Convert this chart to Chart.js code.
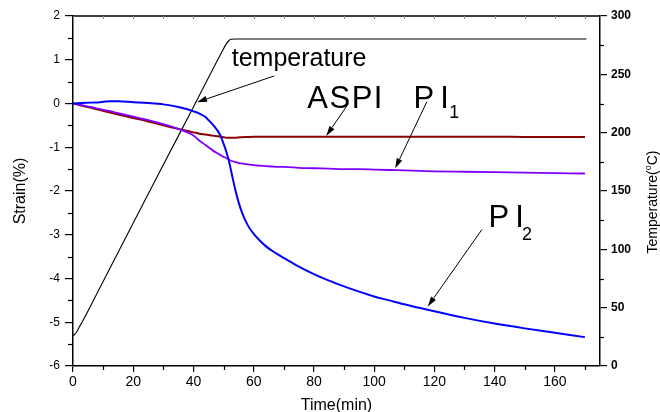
<!DOCTYPE html>
<html>
<head>
<meta charset="utf-8">
<script src="https://cdn.jsdelivr.net/npm/chart.js@4.4.1/dist/chart.umd.min.js"></script>
<style>
  html, body { margin: 0; padding: 0; background: #fff; }
  canvas { display: block; }
</style>
</head>
<body>
<canvas id="c" width="660" height="412"></canvas>
<script>
// Strain series share one time base (min)
const strainTime = [0, 3, 6, 9, 12, 15, 20, 25, 30, 35, 38, 40, 42, 44, 45, 46, 47, 48, 49, 50, 51, 52, 53, 54, 55, 56, 58, 60, 62, 64, 66, 68, 70, 75, 80, 85, 90, 95, 100, 105, 110, 115, 120, 130, 140, 150, 160, 170];

const strainPI2 = [0, 0.01, 0.02, 0.03, 0.05, 0.05, 0.03, 0.01, -0.02, -0.08, -0.13, -0.18, -0.23, -0.31, -0.38, -0.45, -0.53, -0.62, -0.74, -0.92, -1.12, -1.38, -1.70, -2.0, -2.26, -2.47, -2.78, -2.98, -3.13, -3.26, -3.36, -3.45, -3.53, -3.73, -3.9, -4.05, -4.18, -4.3, -4.41, -4.5, -4.59, -4.67, -4.75, -4.9, -5.03, -5.14, -5.24, -5.34];

const strainASPI = [0, -0.05, -0.1, -0.15, -0.2, -0.25, -0.33, -0.41, -0.5, -0.58, -0.63, -0.66, -0.69, -0.71, -0.72, -0.73, -0.74, -0.75, -0.76, -0.77, -0.78, -0.78, -0.78, -0.78, -0.775, -0.77, -0.765, -0.76, -0.76, -0.76, -0.76, -0.76, -0.76, -0.76, -0.76, -0.76, -0.76, -0.76, -0.76, -0.76, -0.76, -0.76, -0.76, -0.76, -0.76, -0.765, -0.765, -0.765];

const strainPI1 = [0, -0.04, -0.08, -0.13, -0.17, -0.22, -0.3, -0.38, -0.47, -0.58, -0.66, -0.73, -0.85, -0.95, -1.0, -1.05, -1.1, -1.14, -1.18, -1.22, -1.25, -1.29, -1.32, -1.34, -1.36, -1.37, -1.39, -1.41, -1.42, -1.43, -1.44, -1.45, -1.45, -1.47, -1.48, -1.49, -1.5, -1.5, -1.51, -1.52, -1.53, -1.54, -1.55, -1.56, -1.57, -1.58, -1.59, -1.6];

// Furnace temperature program (°C)
const tempTime   = [0, 0.5, 1, 1.5, 2, 3, 10, 20, 30, 40, 50, 51, 51.8, 52.5, 54, 170.5];
const tempValues = [26, 27, 28.5, 30.5, 33, 37.5, 72.5, 122.5, 172.5, 222, 272, 276.5, 279, 280, 280.3, 280.3];

// Axis tick values
const timeTicks = [0, 20, 40, 60, 80, 100, 120, 140, 160];
const timeMinorTicks = [10, 30, 50, 70, 90, 110, 130, 150, 170];
const strainTicks = [-6, -5, -4, -3, -2, -1, 0, 1, 2];
const strainMinorTicks = [-5.5, -4.5, -3.5, -2.5, -1.5, -0.5, 0.5, 1.5];
const tempTicks = [0, 50, 100, 150, 200, 250, 300];
const tempMinorTicks = [25, 75, 125, 175, 225, 275];

const pts = (xs, ys) => xs.map((x, i) => ({ x, y: ys[i] }));

// Curve labels and pointer arrows, placed in data units (time, strain)
const curveLabels = [
  { text: 'temperature', t: 52.7, s: 0.86, size: 25, spacing: 0 },
  { text: 'ASPI', t: 77.8, s: -0.11, size: 31, spacing: 1.5 },
  { text: 'PI', t: 113.1, s: -0.11, size: 31, spacing: 6, sub: '1', subT: 124.9, subS: -0.34 },
  { text: 'PI', t: 138.0, s: -2.82, size: 31, spacing: 6, sub: '2', subT: 149.1, subS: -3.11 }
];
const pointerArrows = [
  { from: [66.8, 0.63], to: [41.2, 0.03] },
  { from: [91.5, 0.0], to: [84.1, -0.74] },
  { from: [117.5, 0.04], to: [107.0, -1.48] },
  { from: [135.8, -2.88], to: [117.8, -4.64] }
];

const FONT = '"Liberation Sans", Arial, sans-serif';

const decor = {
  id: 'decor',
  afterDraw(chart) {
    const { ctx, chartArea: a } = chart;
    const x = chart.scales.x, y = chart.scales.y, y2 = chart.scales.y2;
    ctx.save();
    ctx.strokeStyle = '#000';
    ctx.fillStyle = '#000';

    // top frame line with small inward ticks
    ctx.lineWidth = 1.5;
    ctx.beginPath();
    ctx.moveTo(a.left, a.top);
    ctx.lineTo(a.right, a.top);
    ctx.stroke();
    ctx.lineWidth = 1;
    ctx.strokeStyle = '#888';
    timeTicks.concat(timeMinorTicks).forEach(v => {
      const px = Math.round(x.getPixelForValue(v)) + 0.5;
      ctx.beginPath(); ctx.moveTo(px, a.top); ctx.lineTo(px, a.top + 3); ctx.stroke();
    });
    ctx.strokeStyle = '#000';

    // minor ticks
    ctx.lineWidth = 1.2;
    timeMinorTicks.forEach(v => {
      const px = Math.round(x.getPixelForValue(v)) + 0.5;
      ctx.beginPath(); ctx.moveTo(px, a.bottom); ctx.lineTo(px, a.bottom + 4); ctx.stroke();
    });
    strainMinorTicks.forEach(v => {
      const py = Math.round(y.getPixelForValue(v)) + 0.5;
      ctx.beginPath(); ctx.moveTo(a.left, py); ctx.lineTo(a.left - 5, py); ctx.stroke();
    });
    tempMinorTicks.forEach(v => {
      const py = Math.round(y2.getPixelForValue(v)) + 0.5;
      ctx.beginPath(); ctx.moveTo(a.right, py); ctx.lineTo(a.right + 4, py); ctx.stroke();
    });

    // axis titles
    ctx.textBaseline = 'alphabetic';
    ctx.font = '16px ' + FONT;
    ctx.textAlign = 'center';
    ctx.fillText('Time(min)', (a.left + a.right) / 2, 410);

    ctx.save();
    ctx.translate(25, (a.top + a.bottom) / 2);
    ctx.rotate(-Math.PI / 2);
    ctx.fillText('Strain(%)', 0, 0);
    ctx.restore();

    ctx.save();
    ctx.translate(657, 202);
    ctx.rotate(-Math.PI / 2);
    ctx.textAlign = 'left';
    const mainFont = '14px ' + FONT, supFont = '9px ' + FONT;
    ctx.font = mainFont;
    const w1 = ctx.measureText('Temperature(').width;
    const w3 = ctx.measureText('C)').width;
    ctx.font = supFont;
    const w2 = ctx.measureText('o').width;
    let cx = -(w1 + w2 + w3) / 2;
    ctx.font = mainFont;
    ctx.fillText('Temperature(', cx, 0); cx += w1;
    ctx.font = supFont;
    ctx.fillText('o', cx, -6); cx += w2;
    ctx.font = mainFont;
    ctx.fillText('C)', cx, 0);
    ctx.restore();

    // curve labels
    ctx.textAlign = 'left';
    curveLabels.forEach(l => {
      ctx.font = l.size + 'px ' + FONT;
      if ('letterSpacing' in ctx) ctx.letterSpacing = l.spacing + 'px';
      ctx.fillText(l.text, x.getPixelForValue(l.t), y.getPixelForValue(l.s));
      if ('letterSpacing' in ctx) ctx.letterSpacing = '0px';
      if (l.sub) {
        ctx.font = '18px ' + FONT;
        ctx.fillText(l.sub, x.getPixelForValue(l.subT), y.getPixelForValue(l.subS));
      }
    });

    // pointer arrows
    ctx.lineWidth = 1;
    pointerArrows.forEach(p => {
      const x0 = x.getPixelForValue(p.from[0]), y0 = y.getPixelForValue(p.from[1]);
      const x1 = x.getPixelForValue(p.to[0]), y1 = y.getPixelForValue(p.to[1]);
      const ang = Math.atan2(y1 - y0, x1 - x0);
      const len = 10, hw = 3;
      const bx = x1 - len * Math.cos(ang), by = y1 - len * Math.sin(ang);
      ctx.beginPath();
      ctx.moveTo(x0, y0);
      ctx.lineTo(bx, by);
      ctx.stroke();
      ctx.beginPath();
      ctx.moveTo(x1, y1);
      ctx.lineTo(bx + hw * Math.sin(ang), by - hw * Math.cos(ang));
      ctx.lineTo(bx - hw * Math.sin(ang), by + hw * Math.cos(ang));
      ctx.closePath();
      ctx.fill();
    });

    ctx.restore();
  }
};

const lineDefaults = { pointRadius: 0, fill: false, cubicInterpolationMode: 'monotone' };

new Chart(document.getElementById('c'), {
  type: 'line',
  data: {
    datasets: [
      Object.assign({ label: 'PI2', data: pts(strainTime, strainPI2), borderColor: '#0000ff', borderWidth: 2, yAxisID: 'y' }, lineDefaults),
      Object.assign({ label: 'PI1', data: pts(strainTime, strainPI1), borderColor: '#8000ff', borderWidth: 1.8, yAxisID: 'y' }, lineDefaults),
      Object.assign({ label: 'ASPI', data: pts(strainTime, strainASPI), borderColor: '#8b0000', borderWidth: 2, yAxisID: 'y' }, lineDefaults),
      Object.assign({ label: 'temperature', data: pts(tempTime, tempValues), borderColor: '#000000', borderWidth: 1.1, yAxisID: 'y2' }, lineDefaults)
    ]
  },
  options: {
    responsive: false,
    animation: false,
    devicePixelRatio: 1,
    layout: { padding: { top: 16, left: 0, right: 0, bottom: 0 } },
    plugins: { legend: { display: false }, tooltip: { enabled: false } },
    scales: {
      x: {
        type: 'linear', position: 'bottom', min: 0, max: 175,
        afterBuildTicks: s => { s.ticks = timeTicks.map(v => ({ value: v })); },
        afterFit: s => { s.height = 46; },
        ticks: { color: '#000', font: { size: 14, family: FONT }, padding: 2, maxRotation: 0, autoSkip: false },
        grid: { display: true, drawOnChartArea: false, drawTicks: true, tickLength: 6, color: '#000', lineWidth: 1.2 },
        border: { display: true, color: '#000', width: 1.5 }
      },
      y: {
        type: 'linear', position: 'left', min: -6, max: 2,
        afterBuildTicks: s => { s.ticks = strainTicks.map(v => ({ value: v })); },
        afterFit: s => { s.width = 73; },
        ticks: { color: '#000', font: { size: 12, family: FONT }, padding: 5 },
        grid: { display: true, drawOnChartArea: false, drawTicks: true, tickLength: 8, color: '#000', lineWidth: 1.2 },
        border: { display: true, color: '#000', width: 1.5 }
      },
      y2: {
        type: 'linear', position: 'right', min: 0, max: 300,
        afterBuildTicks: s => { s.ticks = tempTicks.map(v => ({ value: v })); },
        afterFit: s => { s.width = 60; },
        ticks: { color: '#000', font: { size: 12, weight: 'bold', family: FONT }, padding: 4 },
        grid: { display: true, drawOnChartArea: false, drawTicks: true, tickLength: 7, color: '#000', lineWidth: 1.2 },
        border: { display: true, color: '#000', width: 1.5 }
      }
    }
  },
  plugins: [decor]
});
</script>
</body>
</html>
